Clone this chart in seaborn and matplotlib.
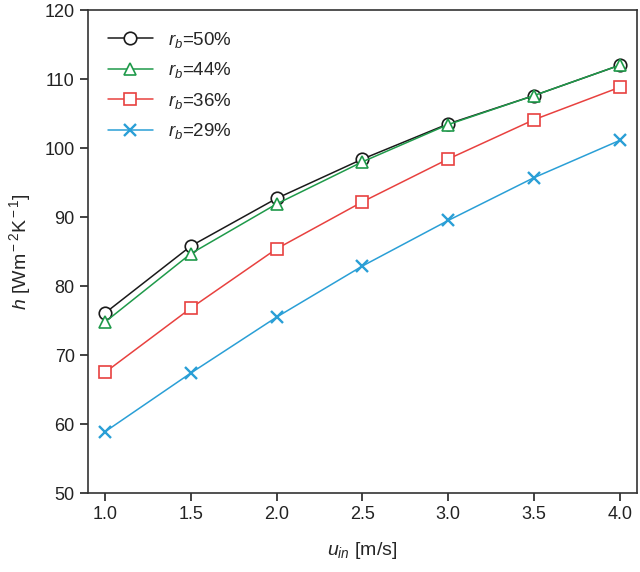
import matplotlib
matplotlib.use("Agg")
import matplotlib.pyplot as plt
import seaborn as sns
import pandas as pd

# values
u_in = [1.0, 1.5, 2.0, 2.5, 3.0, 3.5, 4.0]
h_50 = [76.1, 85.8, 92.7, 98.4, 103.5, 107.6, 112.0]
h_44 = [74.8, 84.7, 91.9, 98.0, 103.4, 107.6, 112.0]
h_36 = [67.5, 76.8, 85.4, 92.2, 98.4, 104.1, 108.8]
h_29 = [58.9, 67.4, 75.5, 82.9, 89.5, 95.7, 101.1]

labels = [r"$r_b$=50%", r"$r_b$=44%", r"$r_b$=36%", r"$r_b$=29%"]
colors = ["#1a1a1a", "#1f9a4a", "#e8413f", "#2a9fd6"]
markers = ["o", "^", "s", "x"]

df = pd.DataFrame({
    "u": u_in * 4,
    "h": h_50 + h_44 + h_36 + h_29,
    "series": sum([[lab] * len(u_in) for lab in labels], []),
})

sns.set_style("ticks")
plt.rcParams["font.family"] = ["Liberation Sans", "DejaVu Sans"]
plt.rcParams["mathtext.fontset"] = "custom"
plt.rcParams["mathtext.it"] = "Liberation Sans:italic"
plt.rcParams["mathtext.rm"] = "Liberation Sans"

fig = plt.figure(figsize=(6.4, 5.72), dpi=100)
ax = fig.add_axes([0.1375, 0.138, 0.8575, 0.8445])

for lab, col, mk in zip(labels, colors, markers):
    sub = df[df["series"] == lab]
    sns.lineplot(data=sub, x="u", y="h", ax=ax, color=col, linewidth=1.1,
                 marker=mk, markersize=9,
                 markerfacecolor="white" if mk != "x" else col,
                 markeredgecolor=col, markeredgewidth=1.2 if mk != "x" else 1.7,
                 label=lab)

ax.set_xlim(0.9, 4.1)
ax.set_ylim(50, 120)
ax.set_xticks([1.0, 1.5, 2.0, 2.5, 3.0, 3.5, 4.0])
ax.set_xticklabels(["1.0", "1.5", "2.0", "2.5", "3.0", "3.5", "4.0"])
ax.set_yticks(range(50, 121, 10))
ax.tick_params(axis="both", labelsize=13, direction="out", length=6, width=1.2,
               colors="#222222")
ax.tick_params(top=False, right=False)
for s in ax.spines.values():
    s.set_linewidth(1.2)
    s.set_color("#333333")

ax.set_xlabel(r"$u_{in}$ [m/s]", fontsize=14, labelpad=12)
ax.set_ylabel(r"$h$ [Wm$^{\rm -2}$K$^{\rm -1}$]", fontsize=14, labelpad=8)

leg = ax.legend(loc="upper left", frameon=False, fontsize=13.5,
                bbox_to_anchor=(0.0, 1.0), handlelength=2.4,
                labelspacing=0.56, borderaxespad=0.65)

fig.savefig("out.png", dpi=100)
